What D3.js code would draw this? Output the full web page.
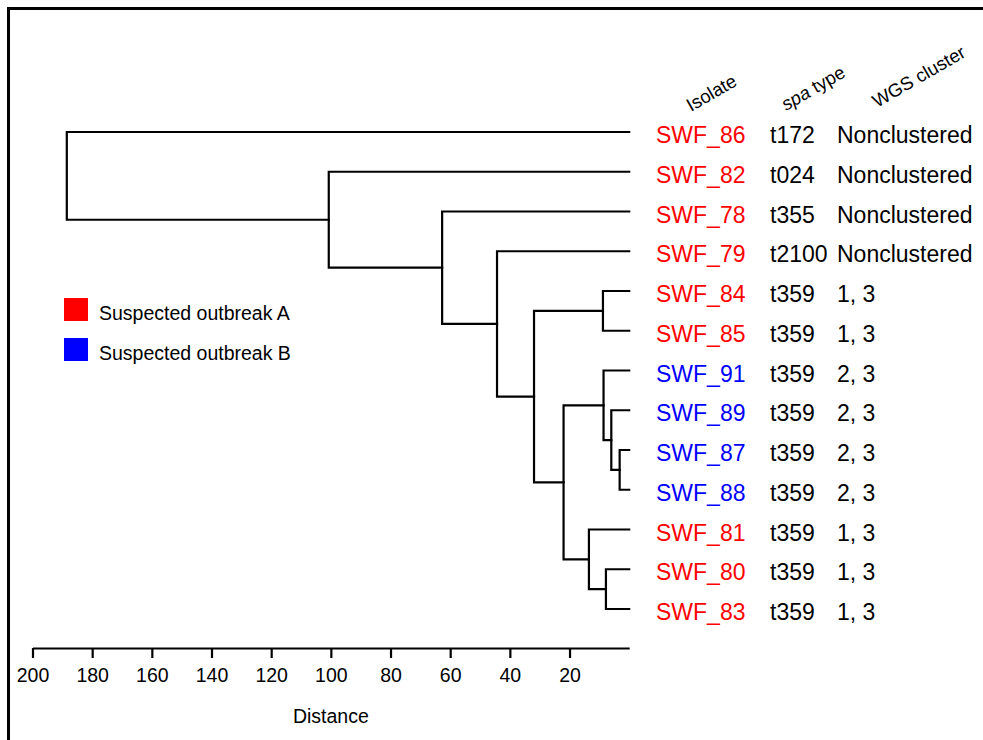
<!DOCTYPE html>
<html>
  <head>
    <meta charset="utf-8">
    <script src="https://d3js.org/d3.v7.min.js"></script>
    <style>
      body { margin: 0; background: white; }
      svg { display: block; font-family: "Liberation Sans", Arial, sans-serif; }
    </style>
  </head>
  <body>
    <div id="chart"></div>
    <script>
      // leaves, top to bottom
      var isolates = ["SWF_86","SWF_82","SWF_78","SWF_79","SWF_84","SWF_85","SWF_91","SWF_89","SWF_87","SWF_88","SWF_81","SWF_80","SWF_83"];
      var spaTypes = ["t172","t024","t355","t2100","t359","t359","t359","t359","t359","t359","t359","t359","t359"];
      var wgsClusters = ["Nonclustered","Nonclustered","Nonclustered","Nonclustered","1, 3","1, 3","2, 3","2, 3","2, 3","2, 3","1, 3","1, 3","1, 3"];
      var outbreak = ["A","A","A","A","A","A","B","B","B","B","A","A","A"];

      // hclust style merges: negative = leaf (1-based), positive = earlier merge
      var merges = [
        [-9, -10], [-8, 1], [-7, 2], [-12, -13], [-11, 4], [3, 5],
        [-5, -6], [7, 6], [-4, 8], [-3, 9], [-2, 10], [-1, 11]
      ];
      var mergeHeights = [3.2, 6.0, 8.6, 7.8, 13.5, 22.0, 8.8, 31.9, 44.3, 62.7, 100.7, 188.5];

      var axisTicks = [200, 180, 160, 140, 120, 100, 80, 60, 40, 20];
      var legendLabels = ["Suspected outbreak A", "Suspected outbreak B"];
      var headers = ["Isolate", "spa type", "WGS cluster"];

      var width = 983, height = 740;
      var colorScale = d3.scaleOrdinal().domain(["A","B"]).range(["#ff0000","#0000ff"]);

      var x = d3.scaleLinear().domain([200, 0]).range([32.5, 629.2]);
      var y = d3.scalePoint().domain(isolates).range([132, 609]);

      var svg = d3.select("#chart").append("svg")
        .attr("width", width)
        .attr("height", height);

      // frame
      svg.append("path")
        .attr("d", "M8.5," + height + "V8.5H" + (width + 2))
        .attr("fill", "none")
        .attr("stroke", "black")
        .attr("stroke-width", 3);

      // tree
      var nodes = [];
      function nodeInfo(ref) {
        if (ref < 0) return {h: 0, y: y(isolates[-ref - 1])};
        return nodes[ref - 1];
      }
      merges.forEach(function(m, i) {
        var a = nodeInfo(m[0]), b = nodeInfo(m[1]);
        var h = mergeHeights[i];
        nodes.push({h: h, y: (a.y + b.y) / 2});
        svg.append("path")
          .attr("d", "M" + x(a.h) + "," + a.y + "H" + x(h) + "V" + b.y + "H" + x(b.h))
          .attr("fill", "none")
          .attr("stroke", "black")
          .attr("stroke-width", 2.2)
          .attr("stroke-linejoin", "miter")
          .attr("stroke-linecap", "square");
      });

      // labels
      var rows = svg.append("g").selectAll("g")
        .data(isolates)
        .enter().append("g")
        .attr("transform", function(d) { return "translate(0," + (y(d) + 11) + ")"; })
        .style("font-size", "23px");

      rows.append("text")
        .attr("x", 656)
        .attr("fill", function(d, i) { return colorScale(outbreak[i]); })
        .text(function(d) { return d; });
      rows.append("text")
        .attr("x", 770)
        .text(function(d, i) { return spaTypes[i]; });
      rows.append("text")
        .attr("x", 837)
        .text(function(d, i) { return wgsClusters[i]; });

      // rotated headers
      var headerPos = [[691, 112], [786, 111], [877, 108]];
      headers.forEach(function(h, i) {
        var t = svg.append("text")
          .attr("transform", "translate(" + headerPos[i][0] + "," + headerPos[i][1] + ") rotate(-30)")
          .style("font-size", "18.5px");
        if (h.indexOf("spa") === 0) {
          t.append("tspan").style("font-style", "italic").text("spa");
          t.append("tspan").text(" type");
        } else {
          t.text(h);
        }
      });

      // legend
      var legend = svg.append("g").selectAll("g")
        .data(legendLabels)
        .enter().append("g")
        .attr("transform", function(d, i) { return "translate(64," + (298 + i * 40) + ")"; });
      legend.append("rect")
        .attr("width", 24)
        .attr("height", 23)
        .attr("fill", function(d, i) { return colorScale.range()[i]; });
      legend.append("text")
        .attr("x", 35)
        .attr("y", 22)
        .style("font-size", "19.5px")
        .text(function(d) { return d; });

      // axis
      var axis = svg.append("g")
        .attr("transform", "translate(0,648)")
        .call(d3.axisBottom(x).tickValues(axisTicks).tickSize(10).tickSizeOuter(0).tickPadding(10));
      axis.select(".domain").attr("stroke-width", 2.2);
      axis.selectAll(".tick line").attr("stroke-width", 2.2);
      axis.selectAll(".tick text")
        .attr("fill", "black")
        .style("font-family", "'Liberation Sans', Arial, sans-serif")
        .style("font-size", "19.5px");

      svg.append("text")
        .attr("x", x(100))
        .attr("y", 723)
        .attr("text-anchor", "middle")
        .style("font-size", "19.5px")
        .text("Distance");
    </script>
  </body>
</html>
